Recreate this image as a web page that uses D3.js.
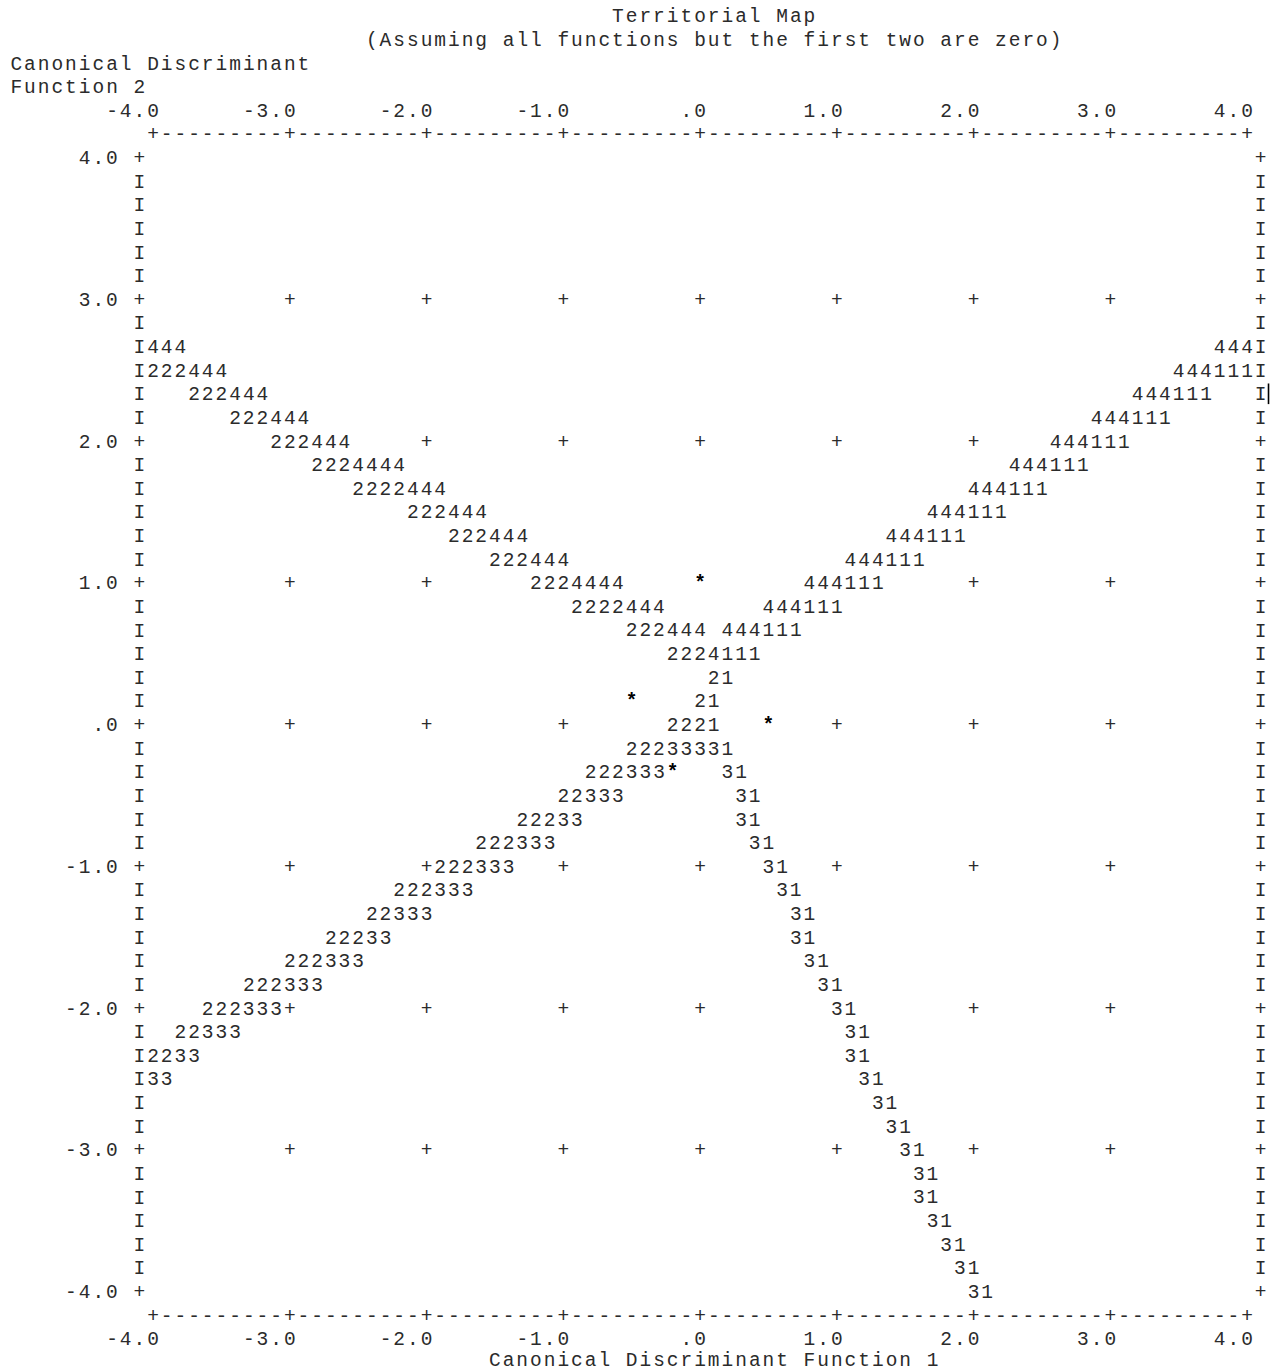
<!DOCTYPE html>
<html><head><meta charset="utf-8">
<script src="https://cdn.jsdelivr.net/npm/d3@7"></script>
<style>
html,body{margin:0;padding:0;background:#fff;}
svg text{font-family:"Liberation Mono","DejaVu Sans Mono",monospace;font-size:19.5px;fill:#2b2b2b;white-space:pre;}
svg text.star{fill:#000;font-weight:bold;}
</style>
</head><body><div id="chart"></div>
<script>
// ---------- texts ----------
const title = "Territorial Map";
const subtitle = "(Assuming all functions but the first two are zero)";
const yTitleLines = ["Canonical Discriminant", "Function 2"];
const xTitle = "Canonical Discriminant Function 1";

// ---------- axes ----------
const f1Ticks = [-4, -3, -2, -1, 0, 1, 2, 3, 4];
const f1TickLabels = ["-4.0", "-3.0", "-2.0", "-1.0", ".0", "1.0", "2.0", "3.0", "4.0"];
const f2Ticks = [4, 3, 2, 1, 0, -1, -2, -3, -4];
const f2TickLabels = ["4.0", "3.0", "2.0", "1.0", ".0", "-1.0", "-2.0", "-3.0", "-4.0"];
const f1Step = 0.1;      // map resolution along function 1
const f2Step = 1 / 6;    // map resolution along function 2

// ---------- territory boundaries: [function 2 value, function 1 value of first symbol, symbols] ----------
const boundary24 = [
  [2.667, -4.0, "444"], [2.5, -4.0, "222444"], [2.333, -3.7, "222444"], [2.167, -3.4, "222444"],
  [2.0, -3.1, "222444"], [1.833, -2.8, "2224444"], [1.667, -2.5, "2222444"], [1.5, -2.1, "222444"],
  [1.333, -1.8, "222444"], [1.167, -1.5, "222444"], [1.0, -1.2, "2224444"], [0.833, -0.9, "2222444"],
  [0.667, -0.5, "222444"], [0.5, -0.2, "2224111"]
];
const boundary41 = [
  [2.667, 3.8, "444"], [2.5, 3.5, "444111"], [2.333, 3.2, "444111"], [2.167, 2.9, "444111"],
  [2.0, 2.6, "444111"], [1.833, 2.3, "444111"], [1.667, 2.0, "444111"], [1.5, 1.7, "444111"],
  [1.333, 1.4, "444111"], [1.167, 1.1, "444111"], [1.0, 0.8, "444111"], [0.833, 0.5, "444111"],
  [0.667, 0.2, "444111"]
];
const boundary21 = [
  [0.333, 0.1, "21"], [0.167, 0.0, "21"], [0.0, -0.2, "2221"], [-0.167, -0.5, "22233331"]
];
const boundary23 = [
  [-0.333, -0.8, "222333"], [-0.5, -1.0, "22333"], [-0.667, -1.3, "22233"], [-0.833, -1.6, "222333"],
  [-1.0, -1.9, "222333"], [-1.167, -2.2, "222333"], [-1.333, -2.4, "22333"], [-1.5, -2.7, "22233"],
  [-1.667, -3.0, "222333"], [-1.833, -3.3, "222333"], [-2.0, -3.6, "222333"], [-2.167, -3.8, "22333"],
  [-2.333, -4.0, "2233"], [-2.5, -4.0, "33"]
];
const boundary31 = [
  [-0.333, 0.2, "31"], [-0.5, 0.3, "31"], [-0.667, 0.3, "31"], [-0.833, 0.4, "31"],
  [-1.0, 0.5, "31"], [-1.167, 0.6, "31"], [-1.333, 0.7, "31"], [-1.5, 0.7, "31"],
  [-1.667, 0.8, "31"], [-1.833, 0.9, "31"], [-2.0, 1.0, "31"], [-2.167, 1.1, "31"],
  [-2.333, 1.1, "31"], [-2.5, 1.2, "31"], [-2.667, 1.3, "31"], [-2.833, 1.4, "31"],
  [-3.0, 1.5, "31"], [-3.167, 1.6, "31"], [-3.333, 1.6, "31"], [-3.5, 1.7, "31"],
  [-3.667, 1.8, "31"], [-3.833, 1.9, "31"], [-4.0, 2.0, "31"]
];
// group centroids [function 1, function 2]
const centroids = [[0.0, 1.0], [-0.5, 0.167], [0.5, 0.0], [-0.2, -0.333]];

// ---------- drawing ----------
const W = 1281, H = 1372;
const svg = d3.select("#chart").append("svg").attr("width", W).attr("height", H);
const x = d3.scaleLinear().domain([-4, 4]).range([153, 1247]);
const y = d3.scaleLinear().domain([4, -4]).range([157, 1291]);

const cw = x(f1Step) - x(0);
const rh = y(0) - y(f2Step);
const fs = 19.5;
const ls = cw - 0.6 * fs;
const g = svg.append("g");

function put(str, f1Start, f2, cls) {
  return g.append("text")
    .attr("class", cls || null)
    .attr("x", x(f1Start) - cw / 2 + ls / 2)
    .attr("y", y(f2))
    .attr("dy", "0.36em")
    .attr("xml:space", "preserve")
    .style("letter-spacing", ls + "px")
    .text(str);
}
function putRight(str, f1End, f2) { put(str, f1End - (str.length - 1) * f1Step, f2); }

// titles
put(title, -0.6, 4 + 6 * f2Step);
put(subtitle, -2.4, 4 + 5 * f2Step);
yTitleLines.forEach((t, i) => put(t, -5.0, 4 + (4 - i) * f2Step));
put(xTitle, -1.5, -4 - 3 * f2Step).attr("dy", "0.2em");

// horizontal borders with ticks and tick labels
const border = f1Ticks.slice(0, -1).map(() => "+" + "-".repeat(Math.round(1 / f1Step) - 1)).join("") + "+";
put(border, f1Ticks[0], 4 + f2Step);
put(border, f1Ticks[0], -4 - f2Step);
f1Ticks.forEach((t, i) => {
  putRight(f1TickLabels[i], t, 4 + 2 * f2Step);
  putRight(f1TickLabels[i], t, -4 - 2 * f2Step);
});

// vertical borders
const nRows = Math.round(8 / f2Step) + 1;
const rowVals = d3.range(nRows).map(i => 4 - i * f2Step);
const isTick = v => Math.abs(v - Math.round(v)) < 1e-6;
rowVals.forEach(v => {
  const ch = isTick(v) ? "+" : "I";
  put(ch, -4 - f1Step, v);
  put(ch, 4 + f1Step, v);
});
f2Ticks.forEach((t, i) => putRight(f2TickLabels[i], -4 - 3 * f1Step, t));

// occupancy of map cells
const key = (f1, f2) => Math.round((f1 + 4) / f1Step) + "," + Math.round((4 - f2) / f2Step);
const occupied = new Set();
const allBoundaries = [boundary24, boundary41, boundary21, boundary23, boundary31];
allBoundaries.forEach(b => b.forEach(([f2, f1, s]) => {
  for (let i = 0; i < s.length; i++) occupied.add(key(f1 + i * f1Step, f2));
}));
centroids.forEach(([f1, f2]) => occupied.add(key(f1, f2)));

// interior grid crosses
f2Ticks.slice(1, -1).forEach(v => {
  f1Ticks.slice(1, -1).forEach(u => {
    if (!occupied.has(key(u, v))) put("+", u, v);
  });
});

// boundaries
allBoundaries.forEach(b => b.forEach(([f2, f1, s]) => put(s, f1, f2)));

// centroids
centroids.forEach(([f1, f2]) => put("*", f1, f2, "star"));

// text cursor artefact seen in the original screenshot
svg.append("line")
  .attr("x1", x(4 + f1Step) + cw / 2 + 1).attr("x2", x(4 + f1Step) + cw / 2 + 1)
  .attr("y1", y(boundary41[2][0]) - rh / 2 + 2).attr("y2", y(boundary41[2][0]) + rh / 2 - 1)
  .attr("stroke", "#000").attr("stroke-width", 1.6);
</script>
</body></html>
